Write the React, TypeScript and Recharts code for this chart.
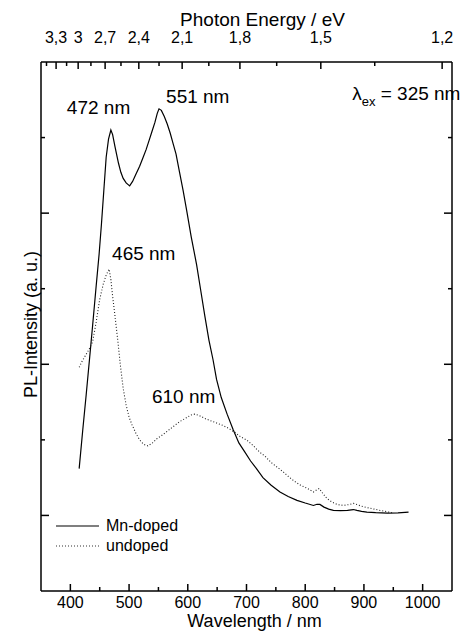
import React from "react";
import { LineChart, Line, XAxis, YAxis, ReferenceDot, Legend } from "recharts";

// Mn-doped spectrum (solid)
const mnWavelength = [
  415, 421, 427, 433, 438, 444, 449, 453, 457, 461, 465, 469, 472, 476, 482,
  486, 490, 495, 501, 506, 512, 518, 524, 529, 534, 539, 544, 548, 551, 555,
  560, 565, 570, 575, 580, 586, 592, 598, 606, 615, 622, 629, 636, 643, 649,
  657, 667, 677, 687, 697, 707, 717, 728, 742, 757, 771, 786, 800, 814, 820,
  825, 832, 840, 848, 860, 872, 882, 888, 896, 905, 920, 940, 958, 976,
];
const mnIntensity = [
  0.31, 0.56, 0.8, 1.05, 1.26, 1.52, 1.73, 1.93, 2.15, 2.37, 2.49, 2.55, 2.52,
  2.44, 2.33, 2.27, 2.23, 2.2, 2.18, 2.21, 2.26, 2.31, 2.37, 2.42, 2.48, 2.54,
  2.6, 2.66, 2.69, 2.68, 2.64, 2.59, 2.53, 2.46, 2.39, 2.27, 2.15, 2.02, 1.84,
  1.66, 1.49, 1.32, 1.16, 1.03, 0.9, 0.78, 0.67, 0.57, 0.48, 0.42, 0.36, 0.31,
  0.25, 0.2, 0.155, 0.125, 0.1, 0.082, 0.066, 0.074, 0.073, 0.055, 0.042,
  0.034, 0.032, 0.034, 0.039, 0.033, 0.027, 0.022, 0.018, 0.015, 0.017, 0.022,
];

// undoped spectrum (dotted)
const undopedWavelength = [
  415, 420, 426, 432, 438, 444, 450, 456, 461, 466, 469, 472, 476, 481, 485,
  490, 495, 500, 505, 512, 518, 525, 532, 540, 548, 556, 566, 576, 586, 597,
  606, 612, 620, 630, 640, 650, 660, 670, 680, 690, 700, 712, 722, 732, 742,
  752, 762, 772, 782, 792, 803, 814, 820, 824, 830, 837, 845, 855, 865, 875,
  882, 888, 895, 905, 915, 928, 940, 951,
];
const undopedIntensity = [
  0.98, 1.02, 1.06, 1.1, 1.15, 1.28, 1.43, 1.53, 1.59, 1.63, 1.56, 1.45, 1.32,
  1.15, 1.0, 0.84, 0.73, 0.65, 0.6, 0.54, 0.5, 0.47, 0.46, 0.48, 0.51, 0.53,
  0.56, 0.59, 0.62, 0.645, 0.665, 0.67, 0.66, 0.64, 0.625, 0.61, 0.595, 0.575,
  0.55, 0.52, 0.5, 0.46, 0.42, 0.39, 0.35, 0.32, 0.29, 0.255, 0.225, 0.2, 0.18,
  0.155, 0.17, 0.178, 0.145, 0.112, 0.09, 0.072, 0.066, 0.072, 0.08, 0.072,
  0.062, 0.052, 0.044, 0.033, 0.024, 0.015,
];

const seriesNames = ["Mn-doped", "undoped"];
const seriesDash = ["", "1 2"];

// axes
const wavelengthTicks = [400, 450, 500, 550, 600, 650, 700, 750, 800, 850, 900, 950, 1000];
const wavelengthLabels = [400, 500, 600, 700, 800, 900, 1000];
const energyTicks = [3.45, 3.3, 3.15, 3.0, 2.85, 2.7, 2.55, 2.4, 2.25, 2.1, 1.95, 1.8, 1.65, 1.5, 1.35, 1.2];
const energyLabels = [3.3, 3.0, 2.7, 2.4, 2.1, 1.8, 1.5, 1.2];
const intensityTicks = [0, 0.5, 1, 1.5, 2, 2.5];
const intensityMajor = [0, 1, 2];

// peak annotations
const peakText = ["472 nm", "551 nm", "465 nm", "610 nm"];
const peakTextX = [448, 617, 525, 593];
const peakTextY = [2.7, 2.775, 1.735, 0.79];

const HC = 1239.84;
const font = "'Liberation Sans', Arial, sans-serif";

const mnData = mnWavelength.map((x, i) => ({ x, y: mnIntensity[i] }));
const undopedData = undopedWavelength.map((x, i) => ({ x, y: undopedIntensity[i] }));
const energyTickWavelengths = energyTicks.map((e) => HC / e);

const fmtEnergy = (e: number) => String(Number(e.toFixed(2))).replace(".", ",");

function BottomTick(props: any) {
  const { x, y, payload } = props;
  const major = wavelengthLabels.includes(payload.value);
  return (
    <g>
      <line x1={x} x2={x} y1={y} y2={y - (major ? 7 : 4)} stroke="#000" strokeWidth={1.5} />
      {major && (
        <text x={x} y={y + 17} textAnchor="middle" fontSize={16} fontFamily={font} fill="#000">
          {payload.value}
        </text>
      )}
    </g>
  );
}

function TopTick(props: any) {
  const { x, y, payload } = props;
  const energy = HC / payload.value;
  const major = energyLabels.some((e) => Math.abs(e - energy) < 0.01);
  return (
    <g>
      <line x1={x} x2={x} y1={y} y2={y + (major ? 7 : 4)} stroke="#000" strokeWidth={1.5} />
      {major && (
        <text x={x} y={y - 19} textAnchor="middle" fontSize={16} fontFamily={font} fill="#000">
          {fmtEnergy(energy)}
        </text>
      )}
    </g>
  );
}

function LeftTick(props: any) {
  const { x, y, payload } = props;
  const major = intensityMajor.includes(payload.value);
  return <line x1={x} x2={x + (major ? 8 : 4)} y1={y} y2={y} stroke="#000" strokeWidth={1.5} />;
}

function RightTick(props: any) {
  const { x, y, payload } = props;
  const major = intensityMajor.includes(payload.value);
  return <line x1={x} x2={x - (major ? 8 : 4)} y1={y} y2={y} stroke="#000" strokeWidth={1.5} />;
}

function YTitle(props: any) {
  const { viewBox } = props;
  const cx = viewBox.x + 31;
  const cy = viewBox.y + viewBox.height / 2 - 2;
  return (
    <text
      x={cx}
      y={cy}
      transform={`rotate(-90 ${cx} ${cy})`}
      textAnchor="middle"
      dominantBaseline="central"
      fontSize={18}
      fontFamily={font}
      fill="#000"
    >
      PL-Intensity (a. u.)
    </text>
  );
}

function LambdaLabel(props: any) {
  const { viewBox } = props;
  return (
    <text x={viewBox.x} y={viewBox.y} fontSize={19} fontFamily={font} fill="#000" style={{ whiteSpace: "pre" }}>
      <tspan>λ</tspan>
      <tspan fontSize={13} dy={6}>ex</tspan>
      <tspan dy={-6}> = 325 nm</tspan>
    </text>
  );
}

function LegendContent() {
  return (
    <div style={{ fontFamily: font, fontSize: 16, color: "#000" }}>
      {seriesNames.map((name, i) => (
        <div key={name} style={{ display: "flex", alignItems: "center", height: 20 }}>
          <svg width={43} height={4} style={{ display: "block" }}>
            <line
              x1={0}
              x2={43}
              y1={2}
              y2={2}
              stroke={i === 0 ? "#555" : "#333"}
              strokeWidth={i === 0 ? 1.5 : 1.1}
              strokeDasharray={seriesDash[i] || undefined}
            />
          </svg>
          <span style={{ marginLeft: 7 }}>{name}</span>
        </div>
      ))}
    </div>
  );
}

export default function App() {
  const axisLine = { stroke: "#000", strokeWidth: 1.5 };
  return (
    <div style={{ position: "absolute", left: 0, top: 0, width: 462, height: 631, background: "#fff" }}>
      <LineChart width={462} height={631} margin={{ top: 0, right: 0, bottom: 0, left: 0 }}>
        <XAxis
          xAxisId="bottom"
          orientation="bottom"
          type="number"
          dataKey="x"
          domain={[350, 1050]}
          allowDataOverflow
          height={40}
          ticks={wavelengthTicks}
          interval={0}
          tickSize={0}
          tickMargin={0}
          tickLine={false}
          tick={BottomTick}
          axisLine={axisLine}
          label={{
            value: "Wavelength / nm",
            position: "insideBottom",
            offset: 4,
            dx: 8,
            fontSize: 18,
            fontFamily: font,
            fill: "#000",
          }}
        />
        <XAxis
          xAxisId="top"
          orientation="top"
          type="number"
          dataKey="x"
          domain={[350, 1050]}
          allowDataOverflow
          height={62}
          ticks={energyTickWavelengths}
          interval={0}
          tickSize={0}
          tickMargin={0}
          tickLine={false}
          tick={TopTick}
          axisLine={axisLine}
          label={{
            value: "Photon Energy / eV",
            position: "insideTop",
            offset: 13,
            dx: 16,
            fontSize: 19,
            fontFamily: font,
            fill: "#000",
          }}
        />
        <YAxis
          yAxisId="left"
          type="number"
          domain={[-0.5, 3]}
          allowDataOverflow
          width={41}
          ticks={intensityTicks}
          interval={0}
          tickSize={0}
          tickMargin={0}
          tickLine={false}
          tick={LeftTick}
          axisLine={axisLine}
          label={<YTitle />}
        />
        <YAxis
          yAxisId="right"
          orientation="right"
          type="number"
          domain={[-0.5, 3]}
          allowDataOverflow
          width={10}
          ticks={intensityTicks}
          interval={0}
          tickSize={0}
          tickMargin={0}
          tickLine={false}
          tick={RightTick}
          axisLine={axisLine}
        />
        <Line
          xAxisId="bottom"
          yAxisId="left"
          data={mnData}
          dataKey="y"
          name={seriesNames[0]}
          type="linear"
          stroke="#000"
          strokeWidth={1.2}
          dot={false}
          isAnimationActive={false}
        />
        <Line
          xAxisId="bottom"
          yAxisId="left"
          data={undopedData}
          dataKey="y"
          name={seriesNames[1]}
          type="linear"
          stroke="#222"
          strokeWidth={1.1}
          strokeDasharray={seriesDash[1]}
          dot={false}
          isAnimationActive={false}
        />
        {/* invisible copy so the top and right axes get a scale */}
        <Line
          xAxisId="top"
          yAxisId="right"
          data={mnData}
          dataKey="y"
          type="linear"
          stroke="none"
          legendType="none"
          dot={false}
          activeDot={false}
          isAnimationActive={false}
        />
        {peakText.map((t, i) => (
          <ReferenceDot
            key={t}
            xAxisId="bottom"
            yAxisId="left"
            x={peakTextX[i]}
            y={peakTextY[i]}
            r={0}
            fill="none"
            stroke="none"
            ifOverflow="visible"
            label={{ value: t, position: "center", fontSize: 19, fontFamily: font, fill: "#000" }}
          />
        ))}
        <ReferenceDot
          xAxisId="bottom"
          yAxisId="left"
          x={880}
          y={2.75}
          r={0}
          fill="none"
          stroke="none"
          ifOverflow="visible"
          label={<LambdaLabel />}
        />
        <Legend
          layout="vertical"
          align="center"
          verticalAlign="middle"
          content={<LegendContent />}
          wrapperStyle={{ left: 56, top: 516, width: "auto" }}
        />
      </LineChart>
    </div>
  );
}
